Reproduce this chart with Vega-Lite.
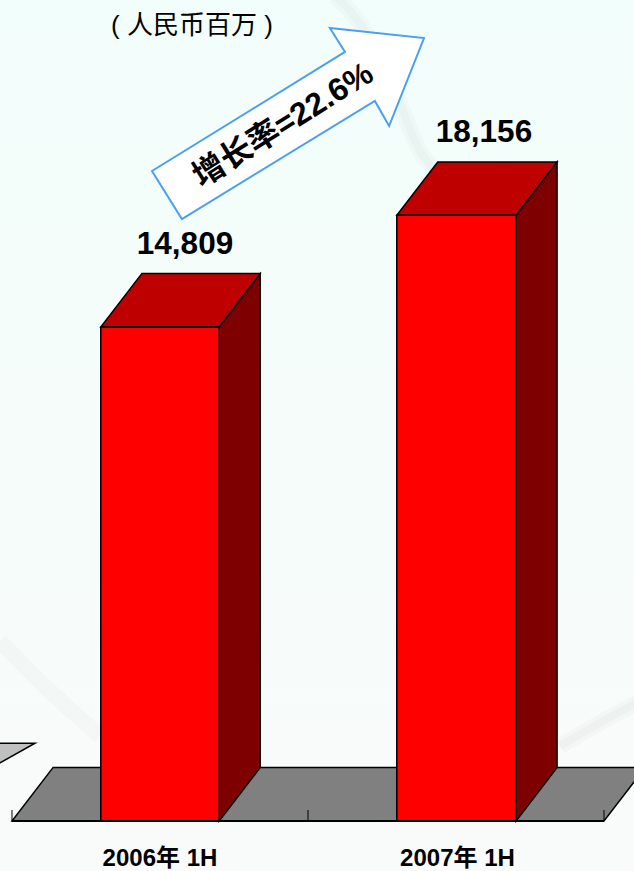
{
"$schema":"https://vega.github.io/schema/vega-lite/v6.json",
"width":634,"height":871,"padding":0,
"autosize":{"type":"fit","contains":"padding"},
"background":"#f5fcfa",
"config":{"view":{"stroke":null}},
"datasets":{
"backdrop":[{"x0":-0.0405,"x1":2.1014,"y0":-1499,"y1":24610}],
"swirl":[
{"curve":"A","seq":1,"x":1.091,"y":24730},{"curve":"A","seq":2,"x":1.193,"y":23681},{"curve":"A","seq":3,"x":1.294,"y":21882},{"curve":"A","seq":4,"x":1.378,"y":20084},{"curve":"A","seq":5,"x":1.463,"y":19334},
{"curve":"B","seq":1,"x":2.122,"y":3597},{"curve":"B","seq":2,"x":1.986,"y":2938},{"curve":"B","seq":3,"x":1.851,"y":2248},
{"curve":"C","seq":1,"x":-0.0405,"y":5396},{"curve":"C","seq":2,"x":0.128,"y":3897},{"curve":"C","seq":3,"x":0.297,"y":2548}],
"wall":[{"x":-0.1,"y0":1450,"y1":2330},{"x":0.0777,"y0":2330,"y1":2330}],
"floor":[{"y":0,"x0":0,"x1":2},{"y":1600,"x0":0.1385,"x1":2.1385}],
"ticks":[{"x":0,"y0":0,"y1":330},{"x":1,"y0":0,"y1":330},{"x":2,"y0":0,"y1":330}],
"baseline":[{"x0":0,"x1":2,"y":0}],
"bars":[
{"period":"2006年 1H","value":14809,"base":0,"x0":0.30,"x1":0.70,"center":0.5845,"mid":0.5,"top":16409,"under":-1349},
{"period":"2007年 1H","value":18156,"base":0,"x0":1.30,"x1":1.703,"center":1.5946,"mid":1.505,"top":19756,"under":-1349}],
"side":[
{"bar":"2006","x":0.70,"y0":0,"y1":14809},{"bar":"2006","x":0.8385,"y0":1600,"y1":16409},
{"bar":"2007","x":1.703,"y0":0,"y1":18156},{"bar":"2007","x":1.8415,"y0":1600,"y1":19756}],
"topface":[
{"bar":"2006","y":14809,"x0":0.30,"x1":0.70},{"bar":"2006","y":16409,"x0":0.4385,"x1":0.8385},
{"bar":"2007","y":18156,"x0":1.30,"x1":1.703},{"bar":"2007","y":19756,"x0":1.4385,"x1":1.8415}],
"arrow":[
{"seq":1,"x":0.473,"y":19484},{"seq":2,"x":0.574,"y":18045},{"seq":3,"x":1.226,"y":21583},{"seq":4,"x":1.274,"y":20833},{"seq":5,"x":1.392,"y":23471},{"seq":6,"x":1.074,"y":23771},{"seq":7,"x":1.125,"y":23052}],
"notes":[{"note":"增长率=22.6%","x":0.916,"y":20863}],
"unit":[{"note":"( 人民币百万 )","x":0.608,"y":23831}]
},
"layer":[
{"data":{"name":"backdrop"},"mark":{"type":"rect","clip":true,"color":{"gradient":"linear","x1":0,"y1":0,"x2":0,"y2":1,"stops":[{"offset":0,"color":"#f2fefb"},{"offset":1,"color":"#f9fbfa"}]}},
"encoding":{"x":{"field":"x0","type":"quantitative","scale":{"domain":[-0.0405,2.1014],"nice":false,"zero":false},"axis":null},"x2":{"field":"x1"},"y":{"field":"y0","type":"quantitative","scale":{"domain":[-1499,24610],"nice":false,"zero":false},"axis":null},"y2":{"field":"y1"}}},
{"data":{"name":"swirl"},"mark":{"type":"line","clip":true,"interpolate":"monotone","stroke":"#9aa5a5","strokeWidth":16,"opacity":0.05},
"encoding":{"x":{"field":"x","type":"quantitative","scale":{"domain":[-0.0405,2.1014],"nice":false,"zero":false},"axis":null},"y":{"field":"y","type":"quantitative","scale":{"domain":[-1499,24610],"nice":false,"zero":false},"axis":null},"detail":{"field":"curve"},"order":{"field":"seq"}}},
{"data":{"name":"swirl"},"transform":[{"filter":"datum.curve != 'C'"}],"mark":{"type":"line","clip":true,"interpolate":"monotone","stroke":"#9aa5a5","strokeWidth":8,"opacity":0.06},
"encoding":{"x":{"field":"x","type":"quantitative","scale":{"domain":[-0.0405,2.1014],"nice":false,"zero":false},"axis":null},"y":{"field":"y","type":"quantitative","scale":{"domain":[-1499,24610],"nice":false,"zero":false},"axis":null},"detail":{"field":"curve"},"order":{"field":"seq"}}},
{"data":{"name":"wall"},"mark":{"type":"area","clip":true,"fill":"#c0c0c0","stroke":"#000000","strokeWidth":1.5,"orient":"vertical"},
"encoding":{"x":{"field":"x","type":"quantitative","scale":{"domain":[-0.0405,2.1014],"nice":false,"zero":false},"axis":null},"y":{"field":"y0","type":"quantitative","stack":null,"scale":{"domain":[-1499,24610],"nice":false,"zero":false},"axis":null},"y2":{"field":"y1"}}},
{"data":{"name":"floor"},"mark":{"type":"area","clip":true,"fill":"#808080","stroke":"#000000","strokeWidth":1.5,"orient":"horizontal"},
"encoding":{"y":{"field":"y","type":"quantitative","scale":{"domain":[-1499,24610],"nice":false,"zero":false},"axis":null},"x":{"field":"x0","type":"quantitative","stack":null,"scale":{"domain":[-0.0405,2.1014],"nice":false,"zero":false},"axis":null},"x2":{"field":"x1"}}},
{"data":{"name":"ticks"},"mark":{"type":"rule","stroke":"#000000","strokeWidth":1},
"encoding":{"x":{"field":"x","type":"quantitative","scale":{"domain":[-0.0405,2.1014],"nice":false,"zero":false},"axis":null},"y":{"field":"y0","type":"quantitative","scale":{"domain":[-1499,24610],"nice":false,"zero":false},"axis":null},"y2":{"field":"y1"}}},
{"data":{"name":"side"},"mark":{"type":"area","fill":"#7f0000","stroke":"#000000","strokeWidth":1.5,"orient":"vertical"},
"encoding":{"x":{"field":"x","type":"quantitative","scale":{"domain":[-0.0405,2.1014],"nice":false,"zero":false},"axis":null},"y":{"field":"y0","type":"quantitative","stack":null,"scale":{"domain":[-1499,24610],"nice":false,"zero":false},"axis":null},"y2":{"field":"y1"},"detail":{"field":"bar"}}},
{"data":{"name":"topface"},"mark":{"type":"area","fill":"#bf0000","stroke":"#000000","strokeWidth":1.5,"orient":"horizontal"},
"encoding":{"y":{"field":"y","type":"quantitative","scale":{"domain":[-1499,24610],"nice":false,"zero":false},"axis":null},"x":{"field":"x0","type":"quantitative","stack":null,"scale":{"domain":[-0.0405,2.1014],"nice":false,"zero":false},"axis":null},"x2":{"field":"x1"},"detail":{"field":"bar"}}},
{"data":{"name":"bars"},"mark":{"type":"rect","fill":"#ff0000","stroke":"#000000","strokeWidth":1.5},
"encoding":{"x":{"field":"x0","type":"quantitative","scale":{"domain":[-0.0405,2.1014],"nice":false,"zero":false},"axis":null},"x2":{"field":"x1"},"y":{"field":"base","type":"quantitative","scale":{"domain":[-1499,24610],"nice":false,"zero":false},"axis":null},"y2":{"field":"value"}}},
{"data":{"name":"baseline"},"mark":{"type":"rule","stroke":"#000000","strokeWidth":2},
"encoding":{"x":{"field":"x0","type":"quantitative","scale":{"domain":[-0.0405,2.1014],"nice":false,"zero":false},"axis":null},"x2":{"field":"x1"},"y":{"field":"y","type":"quantitative","scale":{"domain":[-1499,24610],"nice":false,"zero":false},"axis":null}}},
{"data":{"name":"arrow"},"mark":{"type":"line","interpolate":"linear-closed","fill":"#ffffff","stroke":"#4a9ff0","strokeWidth":2},
"encoding":{"x":{"field":"x","type":"quantitative","scale":{"domain":[-0.0405,2.1014],"nice":false,"zero":false},"axis":null},"y":{"field":"y","type":"quantitative","scale":{"domain":[-1499,24610],"nice":false,"zero":false},"axis":null},"order":{"field":"seq"}}},
{"data":{"name":"notes"},"mark":{"type":"text","font":"Liberation Sans, Noto Sans CJK SC","fontWeight":"bold","fontSize":32,"angle":328,"align":"center","baseline":"middle","fill":"#000000"},
"encoding":{"x":{"field":"x","type":"quantitative","scale":{"domain":[-0.0405,2.1014],"nice":false,"zero":false},"axis":null},"y":{"field":"y","type":"quantitative","scale":{"domain":[-1499,24610],"nice":false,"zero":false},"axis":null},"text":{"field":"note"}}},
{"data":{"name":"unit"},"mark":{"type":"text","font":"Liberation Sans, Noto Sans CJK SC","fontSize":26,"align":"center","baseline":"middle","fill":"#000000"},
"encoding":{"x":{"field":"x","type":"quantitative","scale":{"domain":[-0.0405,2.1014],"nice":false,"zero":false},"axis":null},"y":{"field":"y","type":"quantitative","scale":{"domain":[-1499,24610],"nice":false,"zero":false},"axis":null},"text":{"field":"note"}}},
{"data":{"name":"bars"},"mark":{"type":"text","font":"Liberation Sans","fontWeight":"bold","fontSize":31.5,"align":"center","baseline":"alphabetic","dy":-20,"fill":"#000000"},
"encoding":{"x":{"field":"center","type":"quantitative","scale":{"domain":[-0.0405,2.1014],"nice":false,"zero":false},"axis":null},"y":{"field":"top","type":"quantitative","scale":{"domain":[-1499,24610],"nice":false,"zero":false},"axis":null},"text":{"field":"value","type":"quantitative","format":","}}},
{"data":{"name":"bars"},"mark":{"type":"text","font":"Liberation Sans, Noto Sans CJK SC","fontWeight":"bold","fontSize":24,"align":"center","baseline":"alphabetic","fill":"#000000"},
"encoding":{"x":{"field":"mid","type":"quantitative","scale":{"domain":[-0.0405,2.1014],"nice":false,"zero":false},"axis":null},"y":{"field":"under","type":"quantitative","scale":{"domain":[-1499,24610],"nice":false,"zero":false},"axis":null},"text":{"field":"period"}}}
]
}
